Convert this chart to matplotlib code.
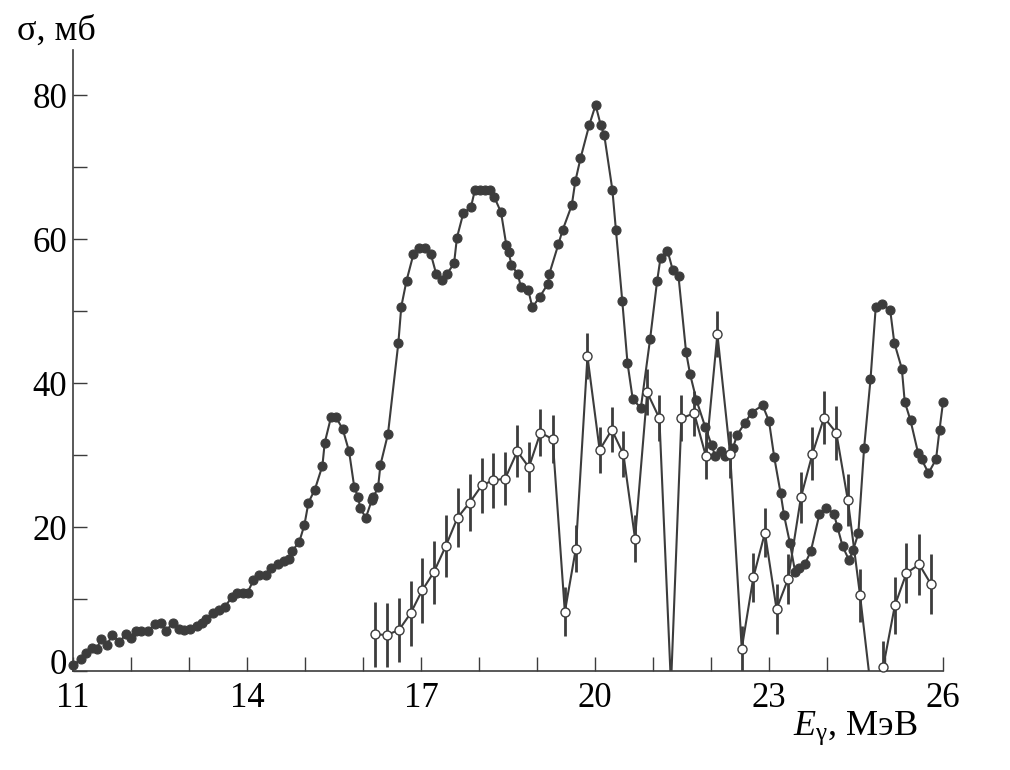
import numpy as np
import matplotlib
matplotlib.use('Agg')
import matplotlib.pyplot as plt
import matplotlib.transforms as mtransforms

#==============================================================================
# data
#==============================================================================

# filled circles: total cross section
e_full = [11.00, 11.13, 11.22, 11.32, 11.41, 11.49, 11.58, 11.68, 11.80, 11.91,
          12.00, 12.09, 12.18, 12.30, 12.41, 12.52, 12.61, 12.72, 12.82, 12.91,
          13.02, 13.13, 13.22, 13.30, 13.41, 13.51, 13.62, 13.74, 13.83, 13.93,
          14.01, 14.11, 14.21, 14.33, 14.41, 14.54, 14.63, 14.73, 14.77, 14.90,
          14.99, 15.06, 15.17, 15.30, 15.34, 15.45, 15.53, 15.65, 15.76, 15.85,
          15.92, 15.95, 16.05, 16.15, 16.18, 16.26, 16.30, 16.43, 16.61, 16.66,
          16.75, 16.87, 16.97, 17.07, 17.17, 17.26, 17.36, 17.45, 17.57, 17.62,
          17.73, 17.86, 17.93, 18.02, 18.10, 18.19, 18.26, 18.38, 18.47, 18.51,
          18.56, 18.67, 18.72, 18.85, 18.92, 19.05, 19.19, 19.21, 19.37, 19.44,
          19.60, 19.66, 19.75, 19.90, 20.01, 20.10, 20.16, 20.30, 20.36, 20.47,
          20.56, 20.65, 20.79, 20.95, 21.07, 21.13, 21.25, 21.34, 21.44, 21.57,
          21.64, 21.75, 21.90, 22.01, 22.07, 22.17, 22.25, 22.38, 22.45, 22.59,
          22.70, 22.89, 23.00, 23.09, 23.20, 23.26, 23.36, 23.45, 23.52, 23.62,
          23.72, 23.87, 23.99, 24.12, 24.18, 24.27, 24.38, 24.45, 24.54, 24.64,
          24.75, 24.84, 24.94, 25.09, 25.16, 25.29, 25.34, 25.44, 25.57, 25.63,
          25.75, 25.88, 25.94, 26.00]
s_full = [0.8, 1.6, 2.5, 3.2, 3.1, 4.5, 3.6, 5.0, 4.0, 5.1,
          4.6, 5.6, 5.6, 5.6, 6.5, 6.6, 5.6, 6.7, 5.8, 5.7,
          5.8, 6.3, 6.6, 7.2, 8.0, 8.5, 8.9, 10.3, 10.9, 10.9,
          10.9, 12.6, 13.3, 13.3, 14.3, 14.9, 15.3, 15.6, 16.6, 17.9,
          20.3, 23.4, 25.2, 28.5, 31.7, 35.3, 35.3, 33.6, 30.5, 25.5,
          24.1, 22.6, 21.3, 23.7, 24.2, 25.5, 28.6, 32.9, 45.6, 50.6,
          54.2, 57.9, 58.8, 58.8, 57.9, 55.2, 54.3, 55.2, 56.6, 60.2,
          63.6, 64.4, 66.8, 66.8, 66.8, 66.8, 65.9, 63.7, 59.2, 58.2,
          56.4, 55.1, 53.4, 52.9, 50.5, 52.0, 53.8, 55.1, 59.3, 61.2,
          64.7, 68.0, 71.2, 75.8, 78.6, 75.8, 74.4, 66.8, 61.3, 51.4,
          42.8, 37.8, 36.5, 46.1, 54.1, 57.4, 58.4, 55.7, 54.8, 44.3,
          41.2, 37.6, 33.9, 31.4, 29.9, 30.5, 29.9, 31.0, 32.8, 34.5,
          35.9, 36.9, 34.7, 29.7, 24.7, 21.6, 17.8, 13.8, 14.3, 14.9,
          16.6, 21.8, 22.7, 21.8, 20.0, 17.3, 15.4, 16.8, 19.1, 31.0,
          40.5, 50.5, 51.0, 50.1, 45.6, 42.0, 37.4, 34.8, 30.3, 29.4,
          27.5, 29.4, 33.5, 37.3]

# open circles with error bars (two points lie below zero, hidden by the axis)
e_part = [16.21, 16.41, 16.62, 16.82, 17.02, 17.22, 17.43, 17.63, 17.84, 18.05,
          18.25, 18.45, 18.66, 18.86, 19.06, 19.27, 19.48, 19.67, 19.87, 20.08,
          20.29, 20.49, 20.69, 20.90, 21.11, 21.31, 21.49, 21.71, 21.91, 22.11,
          22.33, 22.53, 22.73, 22.93, 23.13, 23.33, 23.55, 23.75, 23.95, 24.16,
          24.36, 24.57, 24.75, 24.97, 25.17, 25.37, 25.59, 25.79]
s_part = [5.1, 5.0, 5.7, 8.0, 11.2, 13.7, 17.4, 21.3, 23.4, 25.8,
          26.5, 26.7, 30.5, 28.3, 33.1, 32.2, 8.2, 17.0, 43.7, 30.7,
          33.5, 30.1, 18.4, 38.7, 35.1, -2.0, 35.1, 35.8, 29.9, 46.8,
          30.1, 3.1, 13.0, 19.2, 8.6, 12.8, 24.1, 30.2, 35.2, 33.1,
          23.7, 10.5, -2.0, 0.6, 9.1, 13.6, 14.8, 12.1]
err_part = [4.5, 4.4, 4.5, 4.5, 4.5, 4.4, 4.3, 4.1, 4.0, 3.8,
            3.8, 3.7, 3.6, 3.5, 3.3, 3.3, 3.4, 3.3, 3.2, 3.2,
            3.1, 3.2, 3.2, 3.2, 3.2, 0.0, 3.2, 3.1, 3.3, 3.2,
            3.3, 3.2, 3.4, 3.4, 3.5, 3.5, 3.6, 3.7, 3.7, 3.75,
            3.6, 3.7, 0.0, 3.5, 4.0, 4.2, 4.2, 4.2]

x_ticks = [11, 12, 13, 14, 15, 16, 17, 18, 19, 20, 21, 22, 23, 24, 25, 26]
x_labels = ['11', '', '', '14', '', '', '17', '', '', '20', '', '', '23', '', '', '26']
y_ticks = [0, 10, 20, 30, 40, 50, 60, 70, 80]
y_labels = ['0', '', '20', '', '40', '', '60', '', '80']

#==============================================================================
# style
#==============================================================================

dark = '#3c3c3c'

plt.rcParams['font.family'] = ['Liberation Serif', 'DejaVu Serif']
plt.rcParams['mathtext.fontset'] = 'custom'
plt.rcParams['mathtext.rm'] = 'Liberation Serif'
plt.rcParams['mathtext.it'] = 'Liberation Serif:italic'

line_full = {
    'color':            dark,
    'linewidth':        1.5,
    'marker':           'o',
    'markersize':       6.5,
    'markerfacecolor':  dark,
    'markeredgecolor':  dark,
    'markeredgewidth':  0.8,
}

line_style = {
    'color':            dark,
    'linewidth':        1.5,
}

marker_open = {
    'linestyle':        'none',
    'marker':           'o',
    'markersize':       6.5,
    'markerfacecolor':  'white',
    'markeredgecolor':  dark,
    'markeredgewidth':  1.0,
}

#==============================================================================
# plot
#==============================================================================

fig = plt.figure(figsize=(10.1, 7.7), dpi=100)
ax = fig.add_axes([73/1010, 99/770, 870/1010, 621/770])

ax.plot(e_full, s_full, zorder=3, clip_on=False, **line_full)

e_p = np.array(e_part)
s_p = np.array(s_part)
ax.errorbar(e_p, s_p, yerr=err_part, fmt='none', ecolor=dark,
            elinewidth=2.0, capsize=0, zorder=4)
ax.plot(e_p, s_p, zorder=4, **line_style)
shown = s_p >= 0
ax.plot(e_p[shown], s_p[shown], zorder=5, clip_on=False, **marker_open)

ax.set_xlim(11, 26)
ax.set_ylim(0, 86.25)

ax.set_xticks(x_ticks)
ax.set_xticklabels(x_labels)
ax.set_yticks(y_ticks)
ax.set_yticklabels(y_labels)

ax.tick_params(direction='in', length=10, width=1.0, color=dark,
               labelsize=25, labelcolor='k')
ax.tick_params(axis='x', pad=8)
ax.tick_params(axis='y', pad=4)

# the "0" sits above its tick in the reference, clear of the "11"
zero_lbl = ax.get_yticklabels()[0]
zero_lbl.set_transform(zero_lbl.get_transform() +
                       mtransforms.ScaledTranslation(0, 0.10, fig.dpi_scale_trans))

for side in ['top', 'right']:
    ax.spines[side].set_visible(False)
for side in ['left', 'bottom']:
    ax.spines[side].set_color(dark)
    ax.spines[side].set_linewidth(1.2)

fig.text(17/1010, (770-40)/770, 'σ, мб', fontsize=26, ha='left', va='baseline')
fig.text(793/1010, (770-735)/770, r'$E_{\mathrm{γ}}$, МэВ', fontsize=26,
         ha='left', va='baseline')

fig.savefig('out.png', dpi=100)
